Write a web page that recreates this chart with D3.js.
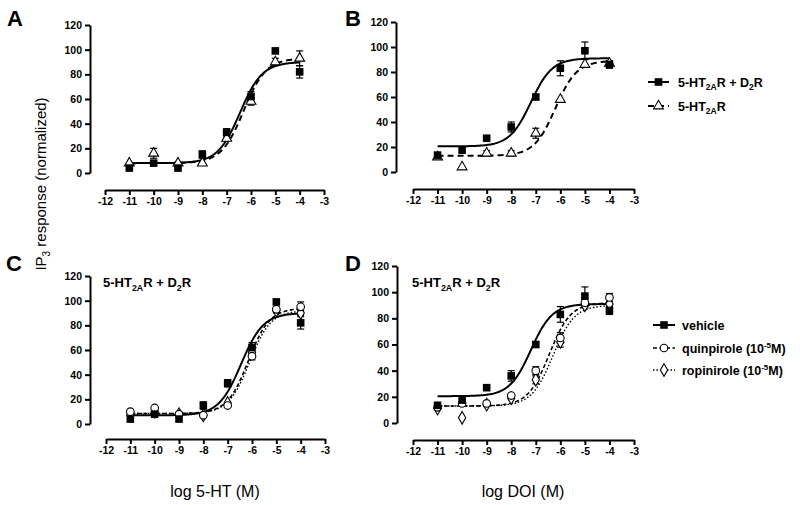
<!DOCTYPE html>
<html><head><meta charset="utf-8">
<script src="https://cdn.jsdelivr.net/npm/d3@7"></script>
<style>
body{margin:0;background:#fff;}
svg{font-family:"Liberation Sans",Arial,sans-serif;}
</style></head>
<body><svg id="c" width="800" height="505"></svg>
<script>
// ---------- data ----------
const logDose = [-11, -10, -9, -8, -7, -6, -5, -4];
const xTicks = [-12, -11, -10, -9, -8, -7, -6, -5, -4, -3];
const yTicks = [0, 20, 40, 60, 80, 100, 120];

// Panel A (5-HT)
const a_both = [4, 8, 4, 15, 33, 62, 99, 82];
const a_both_err = [0, 0, 0, 3, 3, 4, 0, 5];
const a_2a = [8, 16, 8, 8, 28, 58, 90, 93];
const a_2a_err = [0, 4, 0, 0, 2, 3, 3, 6];
// Panel B (DOI)
const b_both = [13.5, 17.5, 27, 36, 60, 83, 97, 86];
const b_both_err = [0, 0, 0, 4, 2, 6, 7, 3];
const b_2a = [12, 4, 15, 15, 31, 58, 86, 87];
const b_2a_err = [0, 0, 2, 2, 4, 0, 0, 0];
// Panel C (5-HT, 5-HT2AR + D2R)
const c_veh = [4, 8, 4, 15, 33, 62, 99, 82];
const c_veh_err = [0, 0, 0, 3, 3, 4, 0, 5];
const c_quin = [10, 13, 8, 7, 15, 55, 93, 95];
const c_quin_err = [0, 0, 0, 0, 0, 3, 2, 4];
const c_rop = [7, 10, 8, 7, 17, 58, 92, 90];
const c_rop_err = [0, 0, 0, 0, 0, 3, 2, 2];
// Panel D (DOI, 5-HT2AR + D2R)
const d_veh = [13.5, 17.5, 27, 36, 60, 83, 97, 86];
const d_veh_err = [0, 0, 0, 4, 2, 6, 7, 3];
const d_quin = [12, 15, 15, 21, 40, 65, 92, 96];
const d_quin_err = [0, 0, 0, 0, 3, 4, 3, 3];
const d_rop = [11, 4, 14, 19, 33, 62, 90, 91];
const d_rop_err = [0, 0, 0, 0, 3, 4, 2, 2];

// fitted sigmoid parameters [bottom, top, logEC50, hill]
const fitA_both = [8, 90, -6.45, 0.95];
const fitA_2a = [8, 93, -6.3, 0.95];
const fitB_both = [20.5, 91, -7.2, 1.0];
const fitB_2a = [13, 89, -6.2, 1.0];
const fitC_veh = [7, 90, -6.45, 0.95];
const fitC_quin = [8.5, 94, -6.15, 1.0];
const fitC_rop = [8.5, 92, -6.1, 1.0];
const fitD_veh = [20.5, 91, -7.2, 1.0];
const fitD_quin = [13, 92, -6.45, 1.0];
const fitD_rop = [13, 90, -6.3, 1.0];

// ---------- drawing ----------
const svg = d3.select("#c");
const FONT = '"Liberation Sans",Arial,sans-serif';

function sig(p, x) { return p[0] + (p[1] - p[0]) / (1 + Math.pow(10, (p[2] - x) * p[3])); }

const panels = [
  {letter: "A", lx: 7, ly: 26, x0: 105, x1: 324, y0: 173, y1: 25, axY: 190, axX: 90,
   series: [
     {v: a_2a, e: a_2a_err, fit: fitA_2a, mark: "tri", line: "dash"},
     {v: a_both, e: a_both_err, fit: fitA_both, mark: "sq", line: "solid"}]},
  {letter: "B", lx: 345, ly: 26, x0: 413, x1: 634, y0: 172, y1: 22, axY: 189, axX: 396,
   series: [
     {v: b_2a, e: b_2a_err, fit: fitB_2a, mark: "tri", line: "dash"},
     {v: b_both, e: b_both_err, fit: fitB_both, mark: "sq", line: "solid"}]},
  {letter: "C", lx: 6, ly: 271, x0: 106, x1: 325, y0: 424, y1: 276, axY: 439, axX: 90, title: {x: 103, y: 287},
   series: [
     {v: c_rop, e: c_rop_err, fit: fitC_rop, mark: "dia", line: "dot"},
     {v: c_quin, e: c_quin_err, fit: fitC_quin, mark: "circ", line: "dash2"},
     {v: c_veh, e: c_veh_err, fit: fitC_veh, mark: "sq", line: "solid"}]},
  {letter: "D", lx: 345, ly: 271, x0: 413, x1: 634, y0: 423, y1: 266, axY: 440, axX: 397, title: {x: 412, y: 287},
   series: [
     {v: d_rop, e: d_rop_err, fit: fitD_rop, mark: "dia", line: "dot"},
     {v: d_quin, e: d_quin_err, fit: fitD_quin, mark: "circ", line: "dash2"},
     {v: d_veh, e: d_veh_err, fit: fitD_veh, mark: "sq", line: "solid"}]}
];

const lineStyle = {
  solid: {w: 2, dash: null},
  dash: {w: 2, dash: "6,4"},
  dash2: {w: 1.6, dash: "4,2.5"},
  dot: {w: 1.4, dash: "1.5,2"}
};

function drawMarker(g, type, cx, cy) {
  if (type === "sq") {
    g.append("rect").attr("x", cx - 3.8).attr("y", cy - 3.8).attr("width", 7.6).attr("height", 7.6).attr("fill", "#000");
  } else if (type === "tri") {
    g.append("path").attr("d", d3.symbol(d3.symbolTriangle, 42)()).attr("transform", `translate(${cx},${cy})`)
      .attr("fill", "#fff").attr("stroke", "#000").attr("stroke-width", 1.1);
  } else if (type === "circ") {
    g.append("circle").attr("cx", cx).attr("cy", cy).attr("r", 3.8).attr("fill", "#fff").attr("stroke", "#000").attr("stroke-width", 1.1);
  } else if (type === "dia") {
    g.append("path").attr("d", d3.symbol(d3.symbolDiamond, 46)()).attr("transform", `translate(${cx},${cy})`)
      .attr("fill", "#fff").attr("stroke", "#000").attr("stroke-width", 1.1);
  }
}

function receptorText(sel, size) {
  const sub = size * 0.68;
  sel.append("tspan").text("5-HT");
  sel.append("tspan").attr("font-size", sub).attr("dy", size * 0.3).text("2A");
  sel.append("tspan").attr("dy", -size * 0.3).text("R + D");
  sel.append("tspan").attr("font-size", sub).attr("dy", size * 0.3).text("2");
  sel.append("tspan").attr("dy", -size * 0.3).text("R");
}

panels.forEach(p => {
  const x = d3.scaleLinear().domain([-12, -3]).range([p.x0, p.x1]);
  const y = d3.scaleLinear().domain([0, 120]).range([p.y0, p.y1]);
  const g = svg.append("g");

  // axes
  const ya = g.append("g").attr("transform", `translate(${p.axX},0)`)
    .call(d3.axisLeft(y).tickValues(yTicks).tickSize(5).tickSizeOuter(0).tickPadding(3).tickFormat(d => String(d)));
  const xa = g.append("g").attr("transform", `translate(0,${p.axY})`)
    .call(d3.axisBottom(x).tickValues(xTicks).tickSize(5).tickSizeOuter(0).tickPadding(3).tickFormat(d => String(d)));
  [ya, xa].forEach(a => {
    a.select(".domain").attr("stroke", "#000").attr("stroke-width", 2);
    a.selectAll(".tick line").attr("stroke", "#000").attr("stroke-width", 2);
    a.selectAll(".tick text").attr("fill", "#000").attr("font-family", FONT).attr("font-size", 10.5).attr("font-weight", "bold");
  });

  // curves
  const xs = d3.range(-11, -4 + 1e-9, 0.05);
  p.series.forEach(s => {
    const st = lineStyle[s.line];
    g.append("path")
      .attr("d", d3.line().x(d => x(d)).y(d => y(sig(s.fit, d)))(xs))
      .attr("fill", "none").attr("stroke", "#000").attr("stroke-width", st.w)
      .attr("stroke-dasharray", st.dash);
  });

  // error bars + markers
  p.series.forEach(s => {
    s.v.forEach((v, i) => {
      const e = s.e[i];
      if (e > 0) {
        const cx = x(logDose[i]);
        g.append("line").attr("x1", cx).attr("x2", cx).attr("y1", y(v + e)).attr("y2", y(v - e))
          .attr("stroke", "#000").attr("stroke-width", 1.2);
        [v + e, v - e].forEach(t => g.append("line").attr("x1", cx - 3.5).attr("x2", cx + 3.5)
          .attr("y1", y(t)).attr("y2", y(t)).attr("stroke", "#000").attr("stroke-width", 1.2));
      }
    });
  });
  p.series.forEach(s => {
    s.v.forEach((v, i) => drawMarker(g, s.mark, x(logDose[i]), y(v)));
  });

  // letter
  svg.append("text").attr("x", p.lx).attr("y", p.ly).attr("font-size", 22).attr("font-weight", "bold").text(p.letter);

  if (p.title) {
    const t = svg.append("text").attr("x", p.title.x).attr("y", p.title.y).attr("font-size", 13).attr("font-weight", "bold");
    receptorText(t, 13);
  }
});

// y-axis title
const yt = svg.append("text").attr("transform", "translate(46,184) rotate(-90)").attr("text-anchor", "middle")
  .attr("font-size", 15);
yt.append("tspan").text("IP");
yt.append("tspan").attr("font-size", 10).attr("dy", 4).text("3");
yt.append("tspan").attr("dy", -4).text(" response (normalized)");

// x-axis titles
svg.append("text").attr("x", 215).attr("y", 497).attr("text-anchor", "middle").attr("font-size", 16).text("log 5-HT (M)");
svg.append("text").attr("x", 523).attr("y", 497).attr("text-anchor", "middle").attr("font-size", 16).text("log DOI (M)");

// legends
function legendRow(lx0, lx1, ly, mark, line, tx, textFn) {
  const st = lineStyle[line];
  svg.append("line").attr("x1", lx0).attr("x2", lx1).attr("y1", ly).attr("y2", ly)
    .attr("stroke", "#000").attr("stroke-width", st.w).attr("stroke-dasharray", st.dash);
  const g = svg.append("g");
  drawMarker(g, mark, (lx0 + lx1) / 2, ly);
  const t = svg.append("text").attr("x", tx).attr("y", ly + 4.5).attr("font-size", 12.5).attr("font-weight", "bold");
  textFn(t);
}
legendRow(648, 669, 82, "sq", "solid", 678, t => receptorText(t, 12.5));
legendRow(648, 669, 106, "tri", "dash", 678, t => {
  t.append("tspan").text("5-HT");
  t.append("tspan").attr("font-size", 8.5).attr("dy", 3.8).text("2A");
  t.append("tspan").attr("dy", -3.8).text("R");
});
legendRow(653, 675, 325, "sq", "solid", 682, t => t.text("vehicle"));
legendRow(653, 675, 348, "circ", "dash2", 682, t => {
  t.append("tspan").text("quinpirole (10");
  t.append("tspan").attr("font-size", 8).attr("dy", -5).text("-5");
  t.append("tspan").attr("dy", 5).text("M)");
});
legendRow(653, 675, 370, "dia", "dot", 682, t => {
  t.append("tspan").text("ropinirole (10");
  t.append("tspan").attr("font-size", 8).attr("dy", -5).text("-5");
  t.append("tspan").attr("dy", 5).text("M)");
});
</script></body></html>
